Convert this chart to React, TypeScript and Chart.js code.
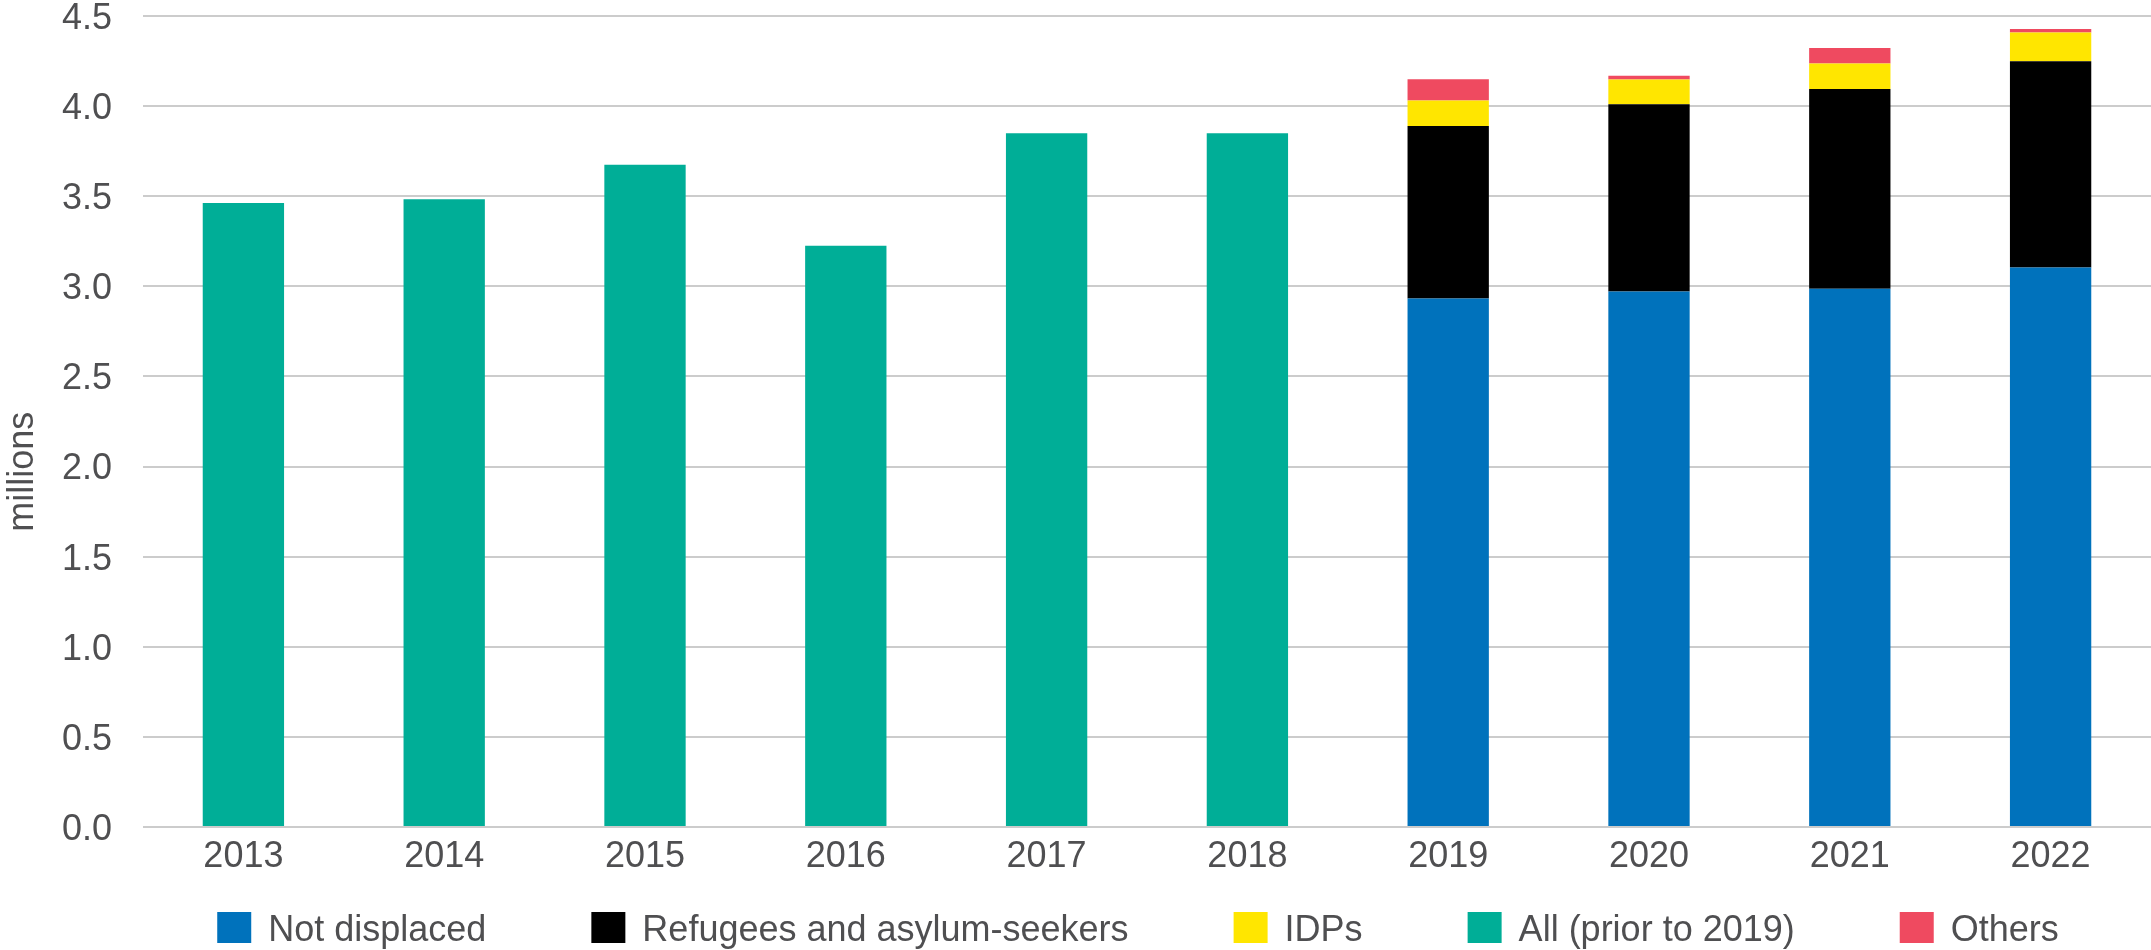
import React, { useEffect, useRef } from 'react';
import { Chart, registerables } from 'chart.js';

Chart.register(...registerables);

const years = ['2013', '2014', '2015', '2016', '2017', '2018', '2019', '2020', '2021', '2022'];
const notDisplaced = [null, null, null, null, null, null, 2.933, 2.972, 2.986, 3.105];
const refugees = [null, null, null, null, null, null, 0.957, 1.038, 1.109, 1.144];
const idps = [null, null, null, null, null, null, 0.141, 0.137, 0.141, 0.159];
const allPrior = [3.463, 3.483, 3.674, 3.225, 3.849, 3.849, null, null, null, null];
const others = [null, null, null, null, null, null, 0.118, 0.022, 0.086, 0.02];

const seriesLabels = ['Not displaced', 'Refugees and asylum-seekers', 'IDPs', 'All (prior to 2019)', 'Others'];
const seriesColors = ['#0072BC', '#000000', '#FFE600', '#00AE97', '#EF4A60'];
const yAxisTitle = 'millions';
const yMin = 0;
const yMax = 4.5;
const yStep = 0.5;

const FONT = "'Liberation Sans', Arial, sans-serif";
const TEXT_COLOR = '#4F4F51';
const FONT_SIZE = 36;

const overlayPlugin = {
  id: 'overlayText',
  afterDraw(chart: any) {
    const ctx = chart.ctx;
    const area = chart.chartArea;
    ctx.save();
    ctx.fillStyle = TEXT_COLOR;
    ctx.font = `${FONT_SIZE}px ${FONT}`;

    // y tick labels, positioned by the y scale
    const yScale = chart.scales.y;
    ctx.textAlign = 'right';
    ctx.textBaseline = 'alphabetic';
    yScale.ticks.forEach((t: any) => {
      const py = yScale.getPixelForValue(t.value);
      ctx.fillText(Number(t.value).toFixed(1), 112, py + FONT_SIZE * 0.358);
    });

    // y axis title
    ctx.save();
    ctx.translate(33, area.top + (area.bottom - area.top) * 0.562);
    ctx.rotate(-Math.PI / 2);
    ctx.textAlign = 'center';
    ctx.textBaseline = 'alphabetic';
    ctx.fillText(yAxisTitle, 0, 0);
    ctx.restore();

    // legend
    const boxW = 34;
    const boxH = 31;
    const gap = 17;
    const itemGap = 105;
    const items = chart.data.datasets.map((d: any) => ({ text: d.label, color: d.backgroundColor }));
    const widths = items.map((it: any) => boxW + gap + ctx.measureText(it.text).width);
    const total = widths.reduce((a: number, b: number) => a + b, 0) + itemGap * (items.length - 1);
    const center = (area.left + area.right) / 2 - 9;
    let x = center - total / 2;
    const boxTop = 912;
    const baseline = 941;
    ctx.textAlign = 'left';
    ctx.textBaseline = 'alphabetic';
    items.forEach((it: any, i: number) => {
      ctx.fillStyle = it.color;
      ctx.fillRect(x, boxTop, boxW, boxH);
      ctx.fillStyle = TEXT_COLOR;
      ctx.fillText(it.text, x + boxW + gap, baseline);
      x += widths[i] + itemGap;
    });
    ctx.restore();
  },
};

export default function App() {
  const canvasRef = useRef<HTMLCanvasElement | null>(null);

  useEffect(() => {
    if (!canvasRef.current) return;
    const seriesData = [notDisplaced, refugees, idps, allPrior, others];
    const chart = new Chart(canvasRef.current, {
      type: 'bar',
      data: {
        labels: years,
        datasets: seriesData.map((d, i) => ({
          label: seriesLabels[i],
          data: d as any,
          backgroundColor: seriesColors[i],
          borderWidth: 0,
          categoryPercentage: 1,
          barPercentage: 0.405,
        })),
      },
      options: {
        animation: false,
        responsive: true,
        maintainAspectRatio: false,
        layout: { padding: { top: 16, left: 0, right: 0, bottom: 0 } },
        plugins: {
          legend: { display: false },
          tooltip: { enabled: false },
          title: { display: false },
        },
        scales: {
          x: {
            stacked: true,
            grid: { display: false, drawTicks: false },
            border: { display: false },
            ticks: {
              padding: 8,
              color: TEXT_COLOR,
              font: { family: FONT, size: FONT_SIZE },
              maxRotation: 0,
              autoSkip: false,
            },
            afterFit(scale: any) {
              scale.height = 123;
              scale.paddingLeft = 0;
              scale.paddingRight = 0;
            },
          },
          y: {
            stacked: true,
            min: yMin,
            max: yMax,
            grid: { color: '#CCCCCC', lineWidth: 2, drawTicks: false },
            border: { display: false },
            ticks: {
              display: false,
              stepSize: yStep,
            },
            afterFit(scale: any) {
              scale.width = 143;
              scale.paddingTop = 0;
              scale.paddingBottom = 0;
            },
          },
        },
      },
      plugins: [overlayPlugin],
    });
    return () => chart.destroy();
  }, []);

  return (
    <div style={{ position: 'absolute', left: 0, top: 0, width: 2151, height: 950 }}>
      <canvas ref={canvasRef} />
    </div>
  );
}
